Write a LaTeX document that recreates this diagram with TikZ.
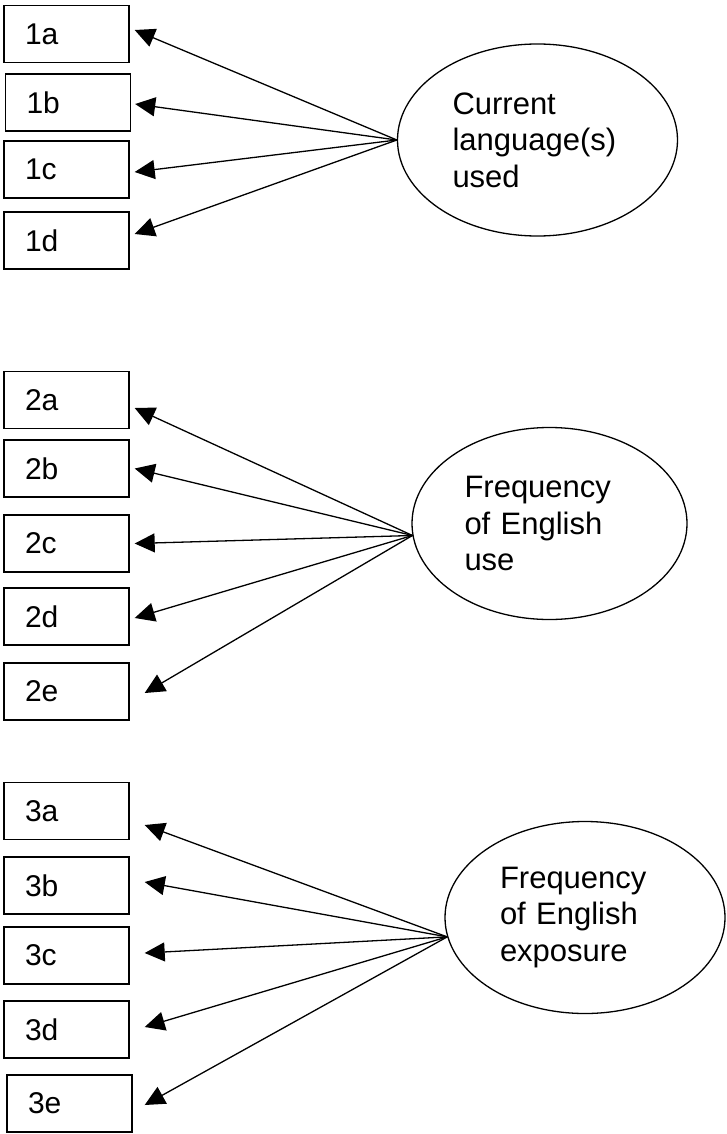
\documentclass[tikz,border=0pt]{standalone}
\usepackage{fontspec}
\setmainfont{Liberation Sans}
\usetikzlibrary{shapes.geometric, arrows.meta}
\tikzset{
    x=1pt, y=-1pt, % one unit per pixel, y running down the page
    >={Triangle[length=20pt, width=19pt]}, % big filled heads
    item/.style={draw, line width=1.4pt, minimum height=57pt, text width=83pt, inner xsep=21pt, align=left, font=\fontsize{30}{36}\selectfont}, % the small boxes
    factor/.style={draw, line width=1.3pt, ellipse, minimum width=280pt, minimum height=192pt, text width=170pt, inner sep=0pt, align=left, font=\fontsize{31}{36.5}\selectfont}, % the ovals
    every edge/.style={draw, ->, line width=1.3pt}, % edges run from the factor to its items
}
\begin{document}
\begin{tikzpicture}
    \useasboundingbox (0,0) rectangle (726,1134);
    % first factor
    \node[item] (b1a) at (66.5,34) {1a};
    \node[item] (b1b) at (68,102.5) {1b};
    \node[item] (b1c) at (66.5,169.5) {1c};
    \node[item] (b1d) at (66.5,240.5) {1d};
    \node[factor] (e1) at (537.5,140) {Current\\language(s)\\used};
    % second factor
    \node[item] (b2a) at (66.5,400) {2a};
    \node[item] (b2b) at (66.5,468.5) {2b};
    \node[item] (b2c) at (66.5,543.5) {2c};
    \node[item] (b2d) at (66.5,616.5) {2d};
    \node[item] (b2e) at (66.5,691.5) {2e};
    \node[factor, minimum width=275pt] (e2) at (549.5,523.5) {Frequency\\of English\\use};
    % third factor
    \node[item] (b3a) at (66.5,811) {3a};
    \node[item] (b3b) at (66.5,885.5) {3b};
    \node[item] (b3c) at (66.5,955.5) {3c};
    \node[item] (b3d) at (66.5,1029.5) {3d};
    \node[item] (b3e) at (69.5,1103.5) {3e};
    \node[factor] (e3) at (585,917.5) {Frequency\\of English\\exposure};
    \path (e1.west) edge ([xshift=5pt, yshift=4pt]b1a.east)
          (e1.west) edge ([xshift=4pt, yshift=-1.5pt]b1b.east)
          (e1.west) edge ([xshift=5pt, yshift=-2.5pt]b1c.east)
          (e1.west) edge ([xshift=5pt, yshift=6.5pt]b1d.east);
    \path (e2.185) edge ([xshift=5pt, yshift=-8pt]b2a.east)
          (e2.185) edge ([xshift=5pt]b2b.east)
          (e2.185) edge ([xshift=5pt]b2c.east)
          (e2.185) edge ([xshift=5pt, yshift=-1.5pt]b2d.east)
          (e2.185) edge ([xshift=15pt, yshift=-1.5pt]b2e.east);
    \path (e3.188) edge ([xshift=15pt, yshift=-14pt]b3a.east)
          (e3.188) edge ([xshift=15pt, yshift=3.5pt]b3b.east)
          (e3.188) edge ([xshift=15pt, yshift=2.5pt]b3c.east)
          (e3.188) edge ([xshift=15pt, yshift=2.5pt]b3d.east)
          (e3.188) edge ([xshift=12pt, yshift=-1.5pt]b3e.east);
\end{tikzpicture}
\end{document}
